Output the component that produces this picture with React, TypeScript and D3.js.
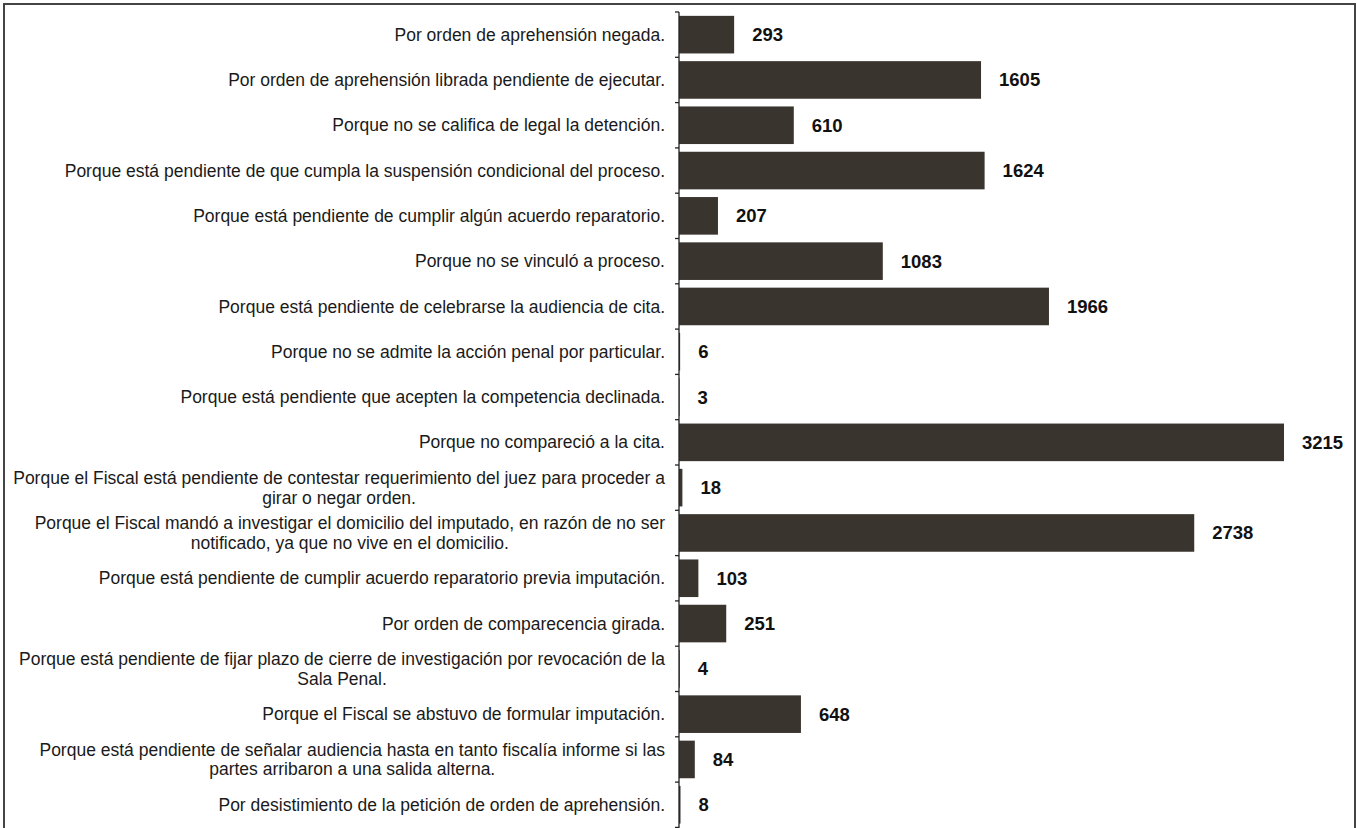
import { scaleBand, scaleLinear, select } from "d3";
import { useEffect, useRef } from "react";

// each label is a list of lines (some labels wrap in the original)
const categories: string[][] = [
  ["Por orden de aprehensión negada."],
  ["Por orden de aprehensión librada pendiente de ejecutar."],
  ["Porque no se califica de legal la detención."],
  ["Porque está pendiente de que cumpla la suspensión condicional del proceso."],
  ["Porque está pendiente de cumplir algún acuerdo reparatorio."],
  ["Porque no se vinculó a proceso."],
  ["Porque está pendiente de celebrarse la audiencia de cita."],
  ["Porque no se admite la acción penal por particular."],
  ["Porque está pendiente que acepten la competencia declinada."],
  ["Porque no compareció a la cita."],
  [
    "Porque el Fiscal está pendiente de contestar requerimiento del juez para proceder a",
    "girar o negar orden.",
  ],
  [
    "Porque el Fiscal mandó a investigar el domicilio del imputado, en razón de no ser",
    "notificado, ya que no vive en el domicilio.",
  ],
  ["Porque está pendiente de cumplir acuerdo reparatorio previa imputación."],
  ["Por orden de comparecencia girada."],
  [
    "Porque está pendiente de fijar plazo de cierre de investigación por revocación de la",
    "Sala Penal.",
  ],
  ["Porque el Fiscal se abstuvo de formular imputación."],
  [
    "Porque está pendiente de señalar audiencia hasta en tanto fiscalía informe si las",
    "partes arribaron a una salida alterna.",
  ],
  ["Por desistimiento de la petición de orden de aprehensión."],
];

const values = [
  293, 1605, 610, 1624, 207, 1083, 1966, 6, 3, 3215, 18, 2738, 103, 251, 4, 648,
  84, 8,
];

const width = 1357;
const height = 828;
const axisX = 679;
const top = 12;
const step = 45.3;
const barColor = "#3a342e";
const font = "'Liberation Sans', Arial, sans-serif";
const labelSize = 17.5;

export default function App() {
  const ref = useRef<SVGSVGElement>(null);

  const keys = categories.map((_, i) => String(i));
  const y = scaleBand()
    .domain(keys)
    .range([top, top + step * keys.length])
    .paddingInner(0.17)
    .paddingOuter(0.085);
  const x = scaleLinear().domain([0, 3215]).range([axisX, 1284]);

  useEffect(() => {
    const svg = select(ref.current);
    const g = svg.append("g").attr("class", "labels");

    categories.forEach((lines, i) => {
      const cy = y(String(i))! + y.bandwidth() / 2;
      const right = 665;
      if (lines.length === 1) {
        g.append("text")
          .attr("x", right)
          .attr("y", cy)
          .attr("dy", "0.35em")
          .attr("text-anchor", "end")
          .attr("font-family", font)
          .attr("font-size", labelSize)
          .attr("fill", "#1a1a1a")
          .text(lines[0]);
      } else {
        // measure the first (longest) line, centre all lines on it
        const first = g
          .append("text")
          .attr("font-family", font)
          .attr("font-size", labelSize)
          .text(lines[0]);
        const w = (first.node() as SVGTextElement).getComputedTextLength();
        first.remove();
        const lh = 19.5;
        lines.forEach((line, j) => {
          g.append("text")
            .attr("x", right - w / 2)
            .attr("y", cy + (j - (lines.length - 1) / 2) * lh)
            .attr("dy", "0.35em")
            .attr("text-anchor", "middle")
            .attr("font-family", font)
            .attr("font-size", labelSize)
            .attr("fill", "#1a1a1a")
            .text(line);
        });
      }
    });

    return () => {
      g.remove();
    };
  }, []);

  const ticks = keys.map((_, i) => top + step * i).concat([top + step * keys.length]);

  return (
    <svg
      ref={ref}
      width={width}
      height={height}
      style={{ position: "absolute", left: 0, top: 0, background: "#fff" }}
    >
      <rect
        x={4}
        y={4}
        width={1351}
        height={height + 20}
        fill="none"
        stroke="#444"
        strokeWidth={2}
      />
      {values.map((v, i) => (
        <rect
          key={i}
          x={axisX}
          y={y(String(i))}
          width={x(v) - axisX}
          height={y.bandwidth()}
          fill={barColor}
        />
      ))}
      {values.map((v, i) => (
        <text
          key={"v" + i}
          x={x(v) + 18}
          y={y(String(i))! + y.bandwidth() / 2}
          dy="0.35em"
          fontFamily={font}
          fontWeight="bold"
          fontSize={18.5}
          fill="#111"
        >
          {v}
        </text>
      ))}
      <line
        x1={axisX}
        x2={axisX}
        y1={top}
        y2={height}
        stroke="#222"
        strokeWidth={1.3}
      />
      {ticks.map((t, i) => (
        <line
          key={"t" + i}
          x1={axisX - 4}
          x2={axisX}
          y1={t}
          y2={t}
          stroke="#222"
          strokeWidth={1.3}
        />
      ))}
    </svg>
  );
}
